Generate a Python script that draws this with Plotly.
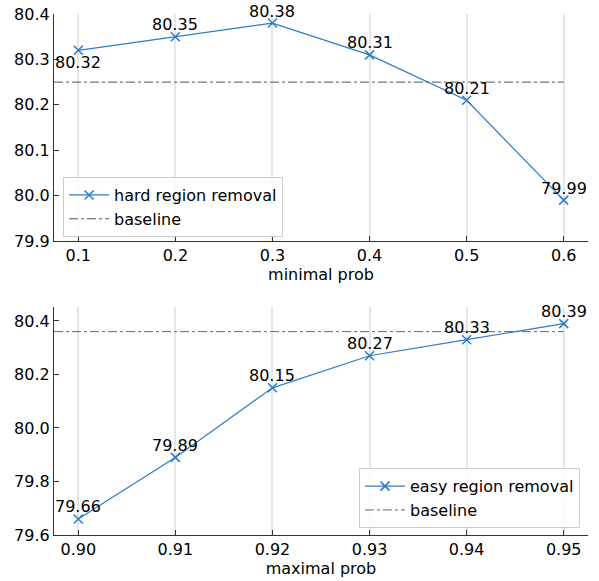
import plotly.graph_objects as go

# ---- data ----
min_prob = [0.1, 0.2, 0.3, 0.4, 0.5, 0.6]
hard_removal = [80.32, 80.35, 80.38, 80.31, 80.21, 79.99]
hard_baseline = 80.25
hard_label_side = [-1, 1, 1, 1, 1, 1]   # -1 = label below point, 1 = above

max_prob = [0.90, 0.91, 0.92, 0.93, 0.94, 0.95]
easy_removal = [79.66, 79.89, 80.15, 80.27, 80.33, 80.39]
easy_baseline = 80.36
easy_label_side = [1, 1, 1, 1, 1, 1]

top_yticks = [79.9, 80.0, 80.1, 80.2, 80.3, 80.4]
bot_yticks = [79.6, 79.8, 80.0, 80.2, 80.4]

BLUE = "#2c7bc9"
FONT = "DejaVu Sans"
FS = 16

def xrange(xs):
    span = xs[-1] - xs[0]
    return [xs[0] - 0.05 * span, xs[-1] + 0.05 * span]

top_xr = xrange(min_prob)
bot_xr = xrange(max_prob)

fig = go.Figure()

fig.add_trace(go.Scatter(
    x=min_prob, y=hard_removal, mode="lines+markers",
    line=dict(color=BLUE, width=1.2),
    marker=dict(symbol="x-thin", size=9, line=dict(color=BLUE, width=1.5), color=BLUE),
    name="hard region removal", xaxis="x", yaxis="y", legend="legend", cliponaxis=False))
fig.add_trace(go.Scatter(
    x=[top_xr[0], min_prob[-1]], y=[hard_baseline, hard_baseline], mode="lines",
    line=dict(color="#555555", width=1, dash="dashdot"),
    name="baseline", xaxis="x", yaxis="y", legend="legend"))

fig.add_trace(go.Scatter(
    x=max_prob, y=easy_removal, mode="lines+markers",
    line=dict(color=BLUE, width=1.2),
    marker=dict(symbol="x-thin", size=9, line=dict(color=BLUE, width=1.5), color=BLUE),
    name="easy region removal", xaxis="x2", yaxis="y2", legend="legend2", cliponaxis=False))
fig.add_trace(go.Scatter(
    x=[bot_xr[0], max_prob[-1]], y=[easy_baseline, easy_baseline], mode="lines",
    line=dict(color="#666666", width=1, dash="dashdot"),
    name="baseline", xaxis="x2", yaxis="y2", legend="legend2"))

annotations = []
for xs, ys, sides, xr, yr in [(min_prob, hard_removal, hard_label_side, "x", "y"),
                               (max_prob, easy_removal, easy_label_side, "x2", "y2")]:
    for xv, yv, s in zip(xs, ys, sides):
        annotations.append(dict(
            x=xv, y=yv, xref=xr, yref=yr, text=f"{yv:.2f}", showarrow=False,
            xanchor="center", yanchor="middle", yshift=12 * s,
            font=dict(size=FS, color="black", family=FONT)))

axis_common = dict(
    showline=True, linecolor="#333333", linewidth=1.2,
    ticks="inside", ticklen=5, tickcolor="#333333",
    tickfont=dict(size=FS, color="black", family=FONT),
    zeroline=False, mirror=False, automargin=False,
)

fig.update_layout(
    width=599, height=581,
    margin=dict(l=54, r=11, t=14, b=46, autoexpand=False),
    paper_bgcolor="white", plot_bgcolor="white",
    font=dict(family=FONT, size=FS, color="black"),
    annotations=annotations,
    xaxis=dict(**axis_common, domain=[0, 1], anchor="y", range=top_xr,
               tickvals=min_prob, ticktext=[f"{v:.1f}" for v in min_prob],
               showgrid=True, gridcolor="#e6e6e6", gridwidth=1.5,
               title=dict(text="minimal prob", font=dict(size=FS, family=FONT), standoff=2)),
    yaxis=dict(**axis_common, domain=[0.5643, 1.0], anchor="x",
               range=[79.9, 80.4], tickvals=top_yticks,
               ticktext=[f"{v:.1f}" for v in top_yticks], showgrid=False),
    xaxis2=dict(**axis_common, domain=[0, 1], anchor="y2", range=bot_xr,
                tickvals=max_prob, ticktext=[f"{v:.2f}" for v in max_prob],
                showgrid=True, gridcolor="#e6e6e6", gridwidth=1.5,
                title=dict(text="maximal prob", font=dict(size=FS, family=FONT), standoff=2)),
    yaxis2=dict(**axis_common, domain=[0.0, 0.4376], anchor="x2",
                range=[79.6, 80.452], tickvals=bot_yticks,
                ticktext=[f"{v:.1f}" for v in bot_yticks], showgrid=False),
    legend=dict(x=0.017, y=0.687, xanchor="left", yanchor="top",
                bgcolor="rgba(255,255,255,0.85)", bordercolor="#cccccc", borderwidth=1,
                font=dict(size=FS, family=FONT), tracegroupgap=0, itemwidth=40),
    legend2=dict(x=0.985, y=0.013, xanchor="right", yanchor="bottom",
                 bgcolor="rgba(255,255,255,0.85)", bordercolor="#cccccc", borderwidth=1,
                 font=dict(size=FS, family=FONT), tracegroupgap=0, itemwidth=40),
)

fig.write_html("out.html", config={"displayModeBar": False})

# remove the browser's default body margin so the figure sits at the page origin
with open("out.html", "r", encoding="utf-8") as f:
    html = f.read()
html = html.replace("<body>", '<body style="margin:0;padding:0;">', 1)
with open("out.html", "w", encoding="utf-8") as f:
    f.write(html)
